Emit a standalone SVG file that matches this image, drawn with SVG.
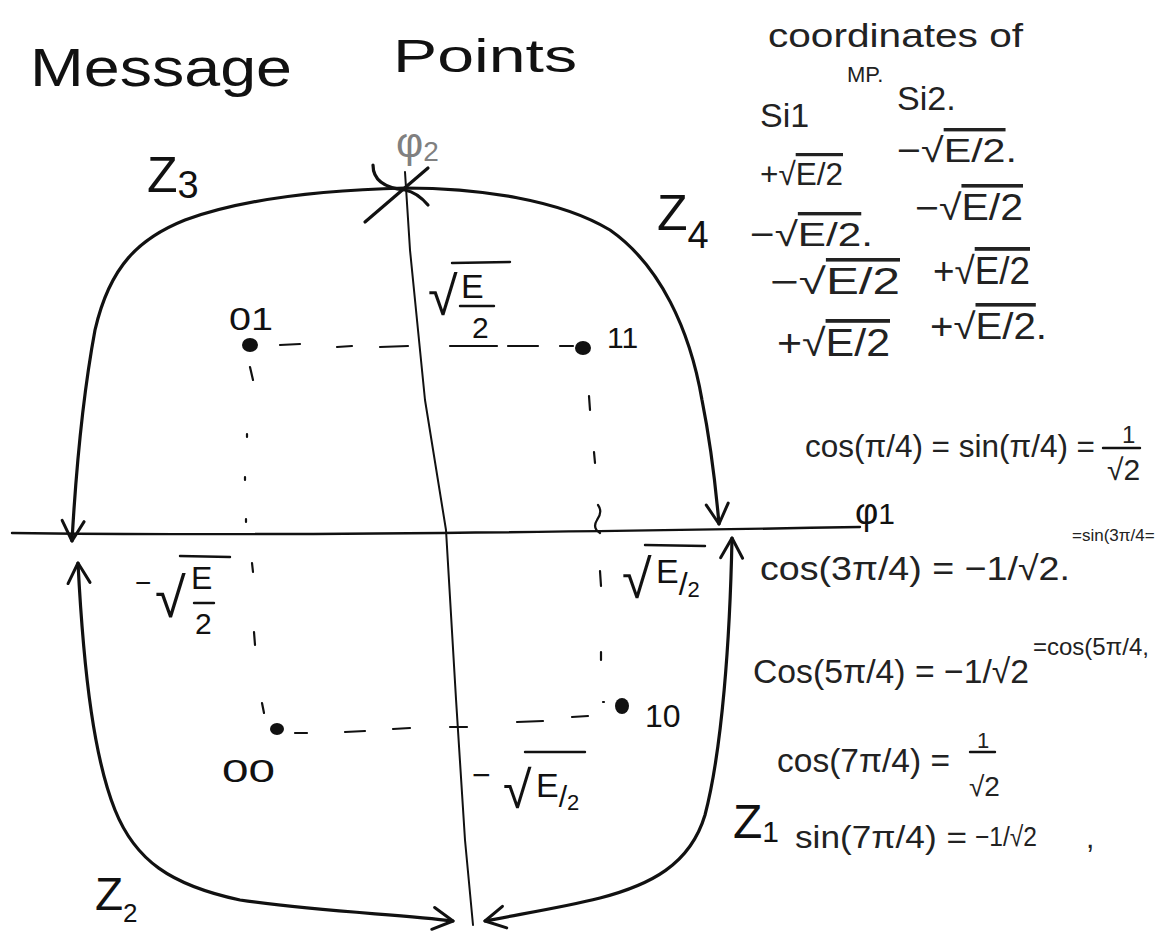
<svg xmlns="http://www.w3.org/2000/svg" width="1158" height="935" viewBox="0 0 1158 935">
<defs>
<style>
.c{fill:none;stroke:#111;stroke-width:3.2;stroke-linecap:round;stroke-linejoin:round}
.ax{fill:none;stroke:#111;stroke-width:2.4;stroke-linecap:round;stroke-linejoin:round}
.thin{fill:none;stroke:#111;stroke-width:2;stroke-linecap:round;stroke-linejoin:round}
.d{fill:none;stroke:#111;stroke-width:2.2;stroke-linecap:round}
.bar{stroke:#111;stroke-width:2.4;stroke-linecap:round}
.t{font-family:"Liberation Sans",Arial,sans-serif;fill:#111}
.n{font-family:"Liberation Sans",Arial,sans-serif;fill:#222}
.g{font-family:"Liberation Sans",Arial,sans-serif;fill:#808080}
.ov{text-decoration:overline}
.dot{fill:#111}
</style>
<marker id="ah" viewBox="-24 -14 28 28" refX="0" refY="0" markerWidth="28" markerHeight="28" markerUnits="userSpaceOnUse" orient="auto-start-reverse">
<path d="M-20,-11 L0,0 L-20,11" fill="none" stroke="#111" stroke-width="3" stroke-linecap="round" stroke-linejoin="round"/>
</marker>
</defs>
<rect width="1158" height="935" fill="#fff"/>

<g id="title">
<text class="t" x="30" y="86" font-size="54" textLength="262" lengthAdjust="spacingAndGlyphs">Message</text>
<text class="t" x="393" y="72" font-size="46" textLength="184" lengthAdjust="spacingAndGlyphs">Points</text>
</g>

<g id="axes">
<path id="phi1-axis" class="ax" d="M12,533 Q300,537 860,527"/>
<path id="phi2-axis" class="thin" d="M405,172 L410,250 L425,400 L446,530 L456,699 L465,840 L473,925"/>
<g id="origin-mark">
<path class="c" d="M428,168 L365,222"/>
<path class="c" d="M373,165 C373,180 385,188 405,190 C415,192 422,198 428,205"/>
</g>
<text class="g" x="396" y="157" font-size="42">φ<tspan font-size="28" dy="4">2</tspan></text>
<text class="t" x="855" y="524" font-size="36">φ<tspan font-size="30">1</tspan></text>
</g>

<g id="connectors">
<path id="z3-z4" class="c" marker-start="url(#ah)" marker-end="url(#ah)" d="M72,541 C76,470 82,400 95,330 C110,265 140,238 185,220 C240,200 320,190 405,188 C480,188 560,200 610,230 C660,265 690,330 702,400 C712,450 716,490 719,524"/>
<path id="z2-left" class="c" marker-start="url(#ah)" marker-end="url(#ah)" d="M78,563 C84,680 95,760 115,810 C135,860 170,885 240,900 C320,912 400,914 453,921"/>
<path id="z1-right" class="c" marker-start="url(#ah)" marker-end="url(#ah)" d="M732,538 C730,640 722,750 705,815 C690,865 650,885 600,898 C560,908 520,914 485,921"/>
<path id="dash-top" class="d" d="M280,345 L300,344 M337,347 L352,346 M380,347 L408,346 M450,346 L497,346 M508,346 L538,346 M560,346 L573,346"/>
<path id="dash-bottom" class="d" d="M295,733 L307,733 M345,732 L365,731 M393,729 L410,728 M450,727 L467,727 M517,722 L543,721 M572,717 L588,716 M603,702 L604,702"/>
<path id="dash-left" class="d" d="M250,367 L253,380 M247,434 L247,437 M245,477 L245,480 M246,519 L246,522 M252,563 L253,572 M254,632 L255,645 M262,703 L264,713"/>
<path id="dash-right" class="d" d="M589,396 L590,410 M594,452 L595,463 M598,505 Q603,512 597,520 Q592,528 600,533 M600,571 L601,586 M601,652 L601,660"/>
</g>

<g id="point-01">
<ellipse class="dot" cx="250" cy="345" rx="8" ry="7"/>
<text class="t" x="229" y="330" font-size="32" textLength="44" lengthAdjust="spacingAndGlyphs">01</text>
</g>
<g id="point-11">
<ellipse class="dot" cx="583" cy="348" rx="8" ry="7"/>
<text class="t" x="607" y="348" font-size="30">11</text>
</g>
<g id="point-00">
<ellipse class="dot" cx="277" cy="729" rx="7" ry="6"/>
<text class="t" x="222" y="782" font-size="32" textLength="53" lengthAdjust="spacingAndGlyphs">00</text>
</g>
<g id="point-10">
<ellipse class="dot" cx="622" cy="706" rx="7" ry="8"/>
<text class="t" x="645" y="727" font-size="32">10</text>
</g>

<g id="label-top">
<text class="t" x="428" y="315" font-size="54">√</text>
<line class="bar" x1="452" y1="263" x2="510" y2="262"/>
<text class="t" x="461" y="298" font-size="34">E</text>
<line class="bar" x1="460" y1="306" x2="494" y2="306"/>
<text class="t" x="472" y="338" font-size="30">2</text>
</g>
<g id="label-left">
<text class="t" x="135" y="592" font-size="28">−</text>
<text class="t" x="155" y="617" font-size="56">√</text>
<line class="bar" x1="180" y1="556" x2="230" y2="557"/>
<text class="t" x="191" y="589" font-size="32">E</text>
<line class="bar" x1="194" y1="603" x2="214" y2="603"/>
<text class="t" x="195" y="634" font-size="30">2</text>
</g>
<g id="label-right">
<text class="t" x="622" y="598" font-size="54">√</text>
<line class="bar" x1="645" y1="545" x2="705" y2="546"/>
<text class="t" x="656" y="583" font-size="34">E<tspan font-size="32" dy="12">/</tspan><tspan font-size="22" dy="2">2</tspan></text>
</g>
<g id="label-bottom">
<text class="t" x="472" y="786" font-size="32">−</text>
<text class="t" x="503" y="808" font-size="52">√</text>
<line class="bar" x1="525" y1="752" x2="585" y2="752"/>
<text class="t" x="536" y="797" font-size="34">E<tspan font-size="30" dy="10">/</tspan><tspan font-size="22" dy="3">2</tspan></text>
</g>

<g id="zone-labels">
<text class="t" x="147" y="192" font-size="50">Z<tspan font-size="38" dy="6">3</tspan></text>
<text class="t" x="657" y="230" font-size="50">Z<tspan font-size="38" dy="18">4</tspan></text>
<text class="t" x="733" y="838" font-size="48">Z<tspan font-size="30" dy="4">1</tspan></text>
<text class="t" x="95" y="910" font-size="46">Z<tspan font-size="26" dy="12">2</tspan></text>
</g>

<g id="coordinates-table">
<text class="n" x="768" y="47" font-size="34" textLength="255" lengthAdjust="spacingAndGlyphs">coordinates of</text>
<text class="n" x="847" y="82" font-size="22">MP.</text>
<text class="n" x="897" y="110" font-size="34">Si2.</text>
<text class="n" x="760" y="127" font-size="34">Si1</text>
<text class="n" x="760" y="185" font-size="32" textLength="83" lengthAdjust="spacingAndGlyphs">+√<tspan class="ov">E/2</tspan></text>
<text class="n" x="897" y="162" font-size="34" textLength="120" lengthAdjust="spacingAndGlyphs">−√<tspan class="ov">E/2</tspan>.</text>
<text class="n" x="750" y="246" font-size="34" textLength="123" lengthAdjust="spacingAndGlyphs">−√<tspan class="ov">E/2</tspan>.</text>
<text class="n" x="915" y="220" font-size="36" textLength="108" lengthAdjust="spacingAndGlyphs">−√<tspan class="ov">E/2</tspan></text>
<text class="n" x="770" y="294" font-size="36" textLength="130" lengthAdjust="spacingAndGlyphs">−√<tspan class="ov">E/2</tspan></text>
<text class="n" x="933" y="284" font-size="38" textLength="97" lengthAdjust="spacingAndGlyphs">+√<tspan class="ov">E/2</tspan></text>
<text class="n" x="777" y="356" font-size="38" textLength="113" lengthAdjust="spacingAndGlyphs">+√<tspan class="ov">E/2</tspan></text>
<text class="n" x="930" y="339" font-size="36" textLength="117" lengthAdjust="spacingAndGlyphs">+√<tspan class="ov">E/2</tspan>.</text>
</g>

<g id="trig-values">
<text class="n" x="805" y="457" font-size="32" textLength="290" lengthAdjust="spacingAndGlyphs">cos(π/4) = sin(π/4) =</text>
<text class="n" x="1122" y="443" font-size="24">1</text>
<line class="bar" x1="1103" y1="448" x2="1140" y2="448"/>
<text class="n" x="1107" y="480" font-size="30">√2</text>

<text class="n" x="760" y="580" font-size="34" textLength="310" lengthAdjust="spacingAndGlyphs">cos(3π/4) = −1/√2.</text>
<text class="n" x="1072" y="541" font-size="17">=sin(3π/4=</text>

<text class="n" x="753" y="683" font-size="34" textLength="276" lengthAdjust="spacingAndGlyphs">Cos(5π/4) = −1/√2</text>
<text class="n" x="1033" y="655" font-size="24">=cos(5π/4,</text>

<text class="n" x="777" y="772" font-size="34" textLength="173" lengthAdjust="spacingAndGlyphs">cos(7π/4) =</text>
<text class="n" x="977" y="748" font-size="22">1</text>
<line class="bar" x1="970" y1="752" x2="995" y2="752"/>
<text class="n" x="969" y="796" font-size="28">√2</text>

<text class="n" x="795" y="848" font-size="32" textLength="172" lengthAdjust="spacingAndGlyphs">sin(7π/4) =</text>
<text class="n" x="975" y="846" font-size="28" textLength="62" lengthAdjust="spacingAndGlyphs">−1/√2</text>
<text class="n" x="1086" y="848" font-size="30">,</text>
</g>
</svg>
